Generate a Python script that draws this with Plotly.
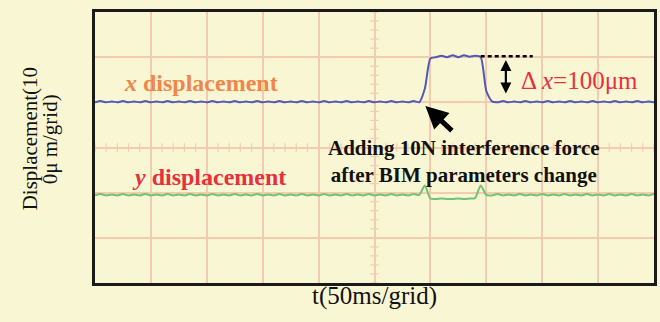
import plotly.graph_objects as go

# time samples in grid divisions (50 ms per division)
t = [round(0.1 * i, 1) for i in range(101)]

# x displacement (grid units, 100 µm/grid)
x_disp = [
    4.00, 4.03, 4.00, 4.02, 4.00, 4.03, 4.00, 4.02, 4.00, 4.03,
    4.00, 4.02, 4.00, 4.03, 4.00, 4.02, 4.00, 4.03, 4.00, 4.02,
    4.00, 4.03, 4.00, 4.02, 4.00, 4.03, 4.00, 4.02, 4.00, 4.03,
    4.00, 4.02, 4.00, 4.03, 4.00, 4.02, 4.00, 4.03, 4.00, 4.02,
    4.00, 4.03, 4.00, 4.02, 4.00, 4.03, 4.00, 4.02, 4.00, 4.03,
    4.00, 4.02, 4.00, 4.03, 4.00, 4.02, 4.00, 4.03, 4.00, 4.30,
    4.97, 5.00, 5.03, 5.00, 5.04, 5.00, 5.04, 5.01, 5.03, 5.00,
    4.25, 4.02, 4.00, 4.03, 4.00, 4.02, 4.00, 4.03, 4.00, 4.02,
    4.00, 4.03, 4.00, 4.02, 4.00, 4.03, 4.00, 4.02, 4.00, 4.03,
    4.00, 4.02, 4.00, 4.03, 4.00, 4.02, 4.00, 4.03, 4.00, 4.02,
    4.00,
]

# y displacement
y_disp = [
    1.94, 1.97, 1.94, 1.96, 1.94, 1.97, 1.94, 1.96, 1.94, 1.97,
    1.94, 1.96, 1.94, 1.97, 1.94, 1.96, 1.94, 1.97, 1.94, 1.96,
    1.94, 1.97, 1.94, 1.96, 1.94, 1.97, 1.94, 1.96, 1.94, 1.97,
    1.94, 1.96, 1.94, 1.97, 1.94, 1.96, 1.94, 1.97, 1.94, 1.96,
    1.94, 1.97, 1.94, 1.96, 1.94, 1.97, 1.94, 1.96, 1.94, 1.97,
    1.94, 1.96, 1.94, 1.97, 1.94, 1.96, 1.94, 1.97, 1.95, 2.16,
    1.87, 1.86, 1.87, 1.86, 1.86, 1.87, 1.86, 1.87, 1.88, 2.16,
    1.95, 1.94, 1.97, 1.94, 1.96, 1.94, 1.97, 1.94, 1.96, 1.94,
    1.97, 1.94, 1.96, 1.94, 1.97, 1.94, 1.96, 1.94, 1.97, 1.94,
    1.96, 1.94, 1.97, 1.94, 1.96, 1.94, 1.97, 1.94, 1.96, 1.94,
    1.97,
]

x_ticks = list(range(0, 11))
y_ticks = list(range(0, 7))
y_title_lines = ["Displacement(10", "0μ m/grid)"]

BG = "#F9F7D3"
GRID = "#F3CBAE"
SERIF = "Liberation Serif, Times New Roman, serif"

fig = go.Figure()

# oscilloscope center-line minor ticks
cx = [round(0.2 * i, 1) for i in range(51)]
cy = [round(0.2 * i, 1) for i in range(31)]
fig.add_trace(go.Scatter(x=cx, y=[3] * len(cx), mode="markers",
                         marker=dict(symbol="line-ns", size=6, line=dict(color=GRID, width=1.2)),
                         hoverinfo="skip", showlegend=False))
fig.add_trace(go.Scatter(x=[5] * len(cy), y=cy, mode="markers",
                         marker=dict(symbol="line-ew", size=6, line=dict(color=GRID, width=1.2)),
                         hoverinfo="skip", showlegend=False))

fig.add_trace(go.Scatter(x=t, y=x_disp, mode="lines", line=dict(color="#5257B8", width=2, shape="spline", smoothing=0.6),
                         showlegend=False))
fig.add_trace(go.Scatter(x=t, y=y_disp, mode="lines", line=dict(color="#72C275", width=2, shape="spline", smoothing=0.6),
                         showlegend=False))

# dashed reference at top level
fig.add_trace(go.Scatter(x=[6.9, 7.83], y=[5.02, 5.02], mode="lines",
                         line=dict(color="black", width=2.5, dash="4px,3px"), showlegend=False))

annotations = [
    dict(x=0.49, y=4.43, text="<b><i>x</i> displacement</b>", xanchor="left", yanchor="middle",
         showarrow=False, font=dict(family=SERIF, size=24, color="#F0864A")),
    dict(x=0.62, y=2.35, text="<b><i>y</i> displacement</b>", xanchor="left", yanchor="middle",
         showarrow=False, font=dict(family=SERIF, size=24, color="#E8303C")),
    dict(x=7.58, y=4.49, text="Δ <i>x</i>=100μm", xanchor="left", yanchor="middle",
         showarrow=False, font=dict(family=SERIF, size=25, color="#E8303C")),
    dict(x=6.6, y=2.68, text="<b>Adding 10N interference force<br>after BIM parameters change</b>",
         xanchor="center", yanchor="middle", showarrow=False,
         font=dict(family=SERIF, size=21, color="#111111")),
    # black arrow pointing to the step onset
    dict(x=5.91, y=3.92, ax=28, ay=26, text="", showarrow=True, arrowhead=2,
         arrowsize=0.9, arrowwidth=5, arrowcolor="black"),
    # double arrow showing Δx
    dict(x=7.35, y=4.94, ax=7.35, ay=4.16, axref="x", ayref="y", text="", showarrow=True,
         arrowhead=2, startarrowhead=2, arrowside="end+start", arrowsize=1.0, startarrowsize=1.0,
         arrowwidth=2.2, arrowcolor="black"),
]
for line_text, shift in zip(y_title_lines, [-65, -45]):
    annotations.append(dict(xref="paper", yref="paper", x=0, y=0.53, xshift=shift,
                            text=line_text, textangle=-90, showarrow=False,
                            xanchor="center", yanchor="middle",
                            font=dict(family=SERIF, size=21, color="#111111")))

fig.update_layout(
    width=660, height=322,
    margin=dict(l=95, r=3, t=12, b=39),
    paper_bgcolor=BG, plot_bgcolor=BG,
    annotations=annotations,
    xaxis=dict(range=[0, 10], tickvals=x_ticks, showticklabels=False, ticks="",
               showgrid=True, gridcolor=GRID, gridwidth=1.5, zeroline=False,
               showline=True, linecolor="#1A1A1A", linewidth=2.5, mirror=True,
               title=dict(text="t(50ms/grid)", font=dict(family=SERIF, size=25, color="#111111"),
                          standoff=2)),
    yaxis=dict(range=[0, 6], tickvals=y_ticks, showticklabels=False, ticks="",
               showgrid=True, gridcolor=GRID, gridwidth=1.5, zeroline=False,
               showline=True, linecolor="#1A1A1A", linewidth=2.5, mirror=True),
)

fig.write_html("out.html", config={"displayModeBar": False},
               post_script="document.body.style.margin='0';document.body.style.background='" + BG + "';")
